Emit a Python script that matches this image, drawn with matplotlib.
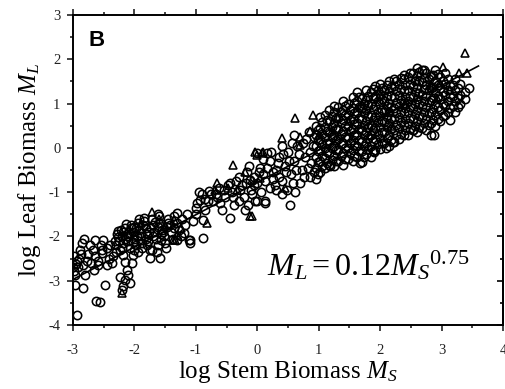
import numpy as np
import matplotlib.pyplot as plt
from matplotlib.ticker import MultipleLocator, FuncFormatter

plt.rcParams['font.family'] = ['Liberation Serif', 'DejaVu Serif']
plt.rcParams['mathtext.fontset'] = 'custom'
plt.rcParams['mathtext.rm'] = 'Liberation Serif'
plt.rcParams['mathtext.it'] = 'Liberation Serif:italic'

#--data (log stem biomass, log leaf biomass)--
circle_x = [
    # far left
    -2.98, -2.95, -3.00, -2.92, -2.86, -2.89, -2.83, -2.97, -2.80, -2.97, -2.84, -2.94, -2.90, -2.78, -2.75, -2.70, -2.93, -2.99,
    -2.64, -2.51, -2.64, -2.53, -2.59, -2.45, -2.37, -2.53, -2.45, -2.62, -2.56, -2.48, -2.40, -2.35, -2.55, -2.42, -2.30, -2.32, -2.68,
    -2.87, -2.72, -2.60, -2.82, -2.66,
    # cluster hanging below x=-2
    -2.23, -2.15, -2.10, -2.18, -2.21, -2.07, -2.18, -2.02, -2.15, -2.04, -2.21, -2.12,
    # dense block around x=-2 .. -1
    -2.28, -2.25, -2.22, -2.20, -2.18, -2.15, -2.12, -2.10, -2.08, -2.05, -2.02, -2.00, -1.98, -1.95, -1.92, -1.90,
    -1.88, -1.85, -1.82, -1.80, -1.78, -1.75, -1.72, -1.70, -1.68, -1.65, -1.62, -1.60, -1.58, -1.55, -1.52, -1.50,
    -1.88, -1.72, -1.75, -1.58, -1.45, -1.42, -1.40, -1.38, -1.35, -1.30, -1.28, -1.25, -1.22, -1.18, -1.15, -1.10,
    -1.05, -1.00, -2.00, -1.95, -2.30, -1.31, -0.88, -1.12, -1.47,
    -2.26, -2.16, -2.06, -1.96, -1.86, -1.76, -1.66, -1.56, -1.46, -1.36, -2.24, -2.00, -1.80, -1.64, -1.48, -1.92, -1.62,
    -2.27, -2.19, -2.11, -2.03, -1.97, -1.89, -1.81, -1.73, -1.69, -1.61, -1.53, -1.57, -1.84, -2.14,
    # middle of the band
    -0.93, -0.80, -0.58, -0.44, -0.20, -0.04, 0.13, -0.85, -1.09, -0.88, -1.31, -1.20, -0.14, -0.12, -0.06, -0.17,
    -0.01, 0.15, -0.01, 0.13, 0.48, 0.53, -0.95, -0.75, -0.65, -0.55, -0.40, -0.30, -0.25, -0.10, 0.00, 0.05,
    0.10, 0.20, 0.25, 0.30, 0.35, 0.40, 0.45, 0.50, 0.55, 0.60, 0.65, 0.70, 0.72, 0.78, 0.80, 0.85,
    0.88, 0.90, 0.30, 0.40, 0.62, 0.20, 0.10, -0.30, -0.45, -1.00, 0.60, 0.40,
    -0.98, -0.90, -0.85, -0.78, -0.72, -0.68, -0.62, -0.60, -0.52, -0.48, -0.42, -0.38, -0.35, -0.28, -0.22, -0.18,
    -0.15, -0.08, -0.05, 0.02, 0.06, 0.12, 0.16, 0.22, 0.26, 0.28, 0.33, 0.36, 0.42, 0.46, 0.52, 0.56,
    0.58, 0.63, 0.68, 0.74, 0.76, 0.82, 0.84, 0.86, 0.92, 0.92,
    # dense cloud x=1..3.5
    0.95, 0.95, 0.95, 0.95, 0.95, 0.95,
    1.02, 1.02, 1.02, 1.02, 1.02, 1.02,
    1.10, 1.10, 1.10, 1.10, 1.10, 1.10,
    1.17, 1.17, 1.17, 1.17, 1.17, 1.17,
    1.25, 1.25, 1.25, 1.25, 1.25, 1.25, 1.25,
    1.32, 1.32, 1.32, 1.32, 1.32, 1.32,
    1.40, 1.40, 1.40, 1.40, 1.40, 1.40, 1.40,
    1.47, 1.47, 1.47, 1.47, 1.47, 1.47,
    1.55, 1.55, 1.55, 1.55, 1.55, 1.55, 1.55,
    1.62, 1.62, 1.62, 1.62, 1.62, 1.62, 1.62,
    1.70, 1.70, 1.70, 1.70, 1.70, 1.70, 1.70,
    1.77, 1.77, 1.77, 1.77, 1.77, 1.77, 1.77,
    1.85, 1.85, 1.85, 1.85, 1.85, 1.85, 1.85,
    1.92, 1.92, 1.92, 1.92, 1.92, 1.92, 1.92,
    2.00, 2.00, 2.00, 2.00, 2.00, 2.00, 2.00,
    2.07, 2.07, 2.07, 2.07, 2.07, 2.07,
    2.15, 2.15, 2.15, 2.15, 2.15, 2.15, 2.15,
    2.22, 2.22, 2.22, 2.22, 2.22, 2.22, 2.22,
    2.30, 2.30, 2.30, 2.30, 2.30, 2.30,
    2.38, 2.38, 2.38, 2.38, 2.38, 2.38, 2.38,
    2.45, 2.45, 2.45, 2.45, 2.45, 2.45,
    2.53, 2.53, 2.53, 2.53, 2.53, 2.53,
    2.60, 2.60, 2.60, 2.60, 2.60, 2.60, 2.60,
    2.68, 2.68, 2.68, 2.68, 2.68, 2.68,
    2.75, 2.75, 2.75, 2.75, 2.75, 2.75,
    2.83, 2.83, 2.83, 2.83, 2.83, 2.83,
    2.90, 2.90, 2.90, 2.90, 2.90, 2.90,
    2.98, 2.98, 2.98, 2.98, 2.98,
    3.05, 3.05, 3.05, 3.05, 3.05,
    3.14, 3.14, 3.14, 3.14,
    3.22, 3.22, 3.22, 3.22,
    3.30, 3.30, 3.30,
    3.38, 3.38, 3.45,
    2.21, 2.87, 2.54, 1.67, 1.18, 2.72, 1.90, 2.10,
    # second, offset layer of the dense cloud
    0.98, 0.98, 0.98, 0.98, 0.98,
    1.06, 1.06, 1.06, 1.06, 1.06,
    1.13, 1.13, 1.13, 1.13, 1.13,
    1.21, 1.21, 1.21, 1.21, 1.21,
    1.28, 1.28, 1.28, 1.28, 1.28,
    1.36, 1.36, 1.36, 1.36, 1.36,
    1.43, 1.43, 1.43, 1.43, 1.43, 1.43,
    1.51, 1.51, 1.51, 1.51, 1.51,
    1.58, 1.58, 1.58, 1.58, 1.58, 1.58,
    1.66, 1.66, 1.66, 1.66, 1.66, 1.66,
    1.73, 1.73, 1.73, 1.73, 1.73, 1.73,
    1.81, 1.81, 1.81, 1.81, 1.81, 1.81,
    1.88, 1.88, 1.88, 1.88, 1.88, 1.88, 1.88,
    1.96, 1.96, 1.96, 1.96, 1.96, 1.96,
    2.03, 2.03, 2.03, 2.03, 2.03, 2.03,
    2.11, 2.11, 2.11, 2.11, 2.11, 2.11,
    2.18, 2.18, 2.18, 2.18, 2.18, 2.18,
    2.26, 2.26, 2.26, 2.26, 2.26, 2.26,
    2.34, 2.34, 2.34, 2.34, 2.34, 2.34,
    2.41, 2.41, 2.41, 2.41, 2.41,
    2.49, 2.49, 2.49, 2.49, 2.49, 2.49,
    2.57, 2.57, 2.57, 2.57, 2.57,
    2.64, 2.64, 2.64, 2.64, 2.64, 2.64,
    2.72, 2.72, 2.72, 2.72, 2.72,
    2.79, 2.79, 2.79, 2.79, 2.79,
    2.86, 2.86, 2.86, 2.86, 2.86,
    2.94, 2.94, 2.94, 2.94, 2.94,
    3.02, 3.02, 3.02, 3.02,
    3.10, 3.10, 3.10, 3.10,
    3.18, 3.18, 3.18,
    3.26, 3.26, 3.26,
]
circle_y = [
    -2.45, -2.62, -2.68, -2.70, -2.15, -2.30, -2.64, -2.87, -2.87, -3.09, -3.17, -3.77, -2.50, -2.55, -2.40, -2.60, -2.55, -2.78,
    -2.08, -2.08, -2.45, -2.38, -2.64, -2.64, -2.60, -2.30, -2.27, -3.45, -3.48, -3.09, -2.20, -2.45, -2.20, -2.50, -2.35, -2.10, -2.30,
    -2.40, -2.20, -2.55, -2.05, -2.75,
    -2.91, -2.98, -2.87, -3.13, -3.21, -3.06, -2.42, -2.42, -2.57, -2.60, -2.27, -2.75,
    -1.95, -2.10, -1.85, -2.00, -2.15, -1.80, -1.95, -2.10, -2.25, -1.75, -1.90, -2.05, -2.20, -1.70, -1.85, -2.00,
    -2.15, -1.65, -1.80, -1.95, -2.10, -2.30, -1.60, -1.75, -1.90, -2.05, -2.20, -1.55, -1.70, -1.85, -2.00, -2.15,
    -2.27, -2.30, -2.49, -2.49, -1.60, -1.75, -1.90, -2.05, -1.55, -1.70, -1.85, -2.00, -1.60, -1.75, -1.50, -2.15,
    -1.65, -1.50, -1.78, -2.35, -2.20, -1.48, -1.63, -2.08, -1.78,
    -1.88, -2.05, -1.82, -1.98, -1.75, -1.90, -1.68, -1.95, -1.70, -1.80, -2.30, -2.30, -2.20, -2.35, -2.25, -1.60, -1.50,
    -2.02, -1.90, -2.00, -2.12, -1.82, -1.92, -2.05, -1.82, -1.98, -1.78, -1.90, -2.08, -1.58, -1.72,
    -1.18, -1.21, -1.40, -1.59, -1.40, -1.21, -1.21, -1.40, -2.08, -2.04, -2.08, -1.93, -0.42, -0.73, -0.65, -0.54,
    -0.12, -0.12, -1.21, -1.25, -0.95, -1.29, -1.00, -1.05, -1.10, -0.95, -1.10, -1.20, -0.85, -0.95, -0.80, -0.45,
    -0.60, -0.30, -0.70, -0.50, -0.20, -0.75, -0.40, -0.10, -0.60, -0.30, 0.05, -0.80, -0.50, -0.20, 0.20, -0.65,
    -0.35, 0.05, -0.95, -1.05, -1.00, -0.90, -0.25, -0.65, -0.80, -1.35, 0.30, 0.05,
    -1.25, -1.05, -1.15, -0.98, -1.20, -1.05, -0.90, -1.25, -1.10, -0.85, -1.00, -1.30, -0.75, -0.95, -1.10, -0.80,
    -1.30, -1.05, -0.85, -0.55, -1.00, -0.75, -0.45, -0.10, -0.55, -0.85, -0.35, -0.65, -0.15, -0.55, -0.30, 0.10,
    -0.80, -0.50, -0.15, 0.10, -0.65, -0.45, 0.35, -0.10, -0.55, 0.25,
    -0.70, -0.45, -0.20, 0.05, 0.30, 0.50,
    -0.55, -0.30, -0.05, 0.20, 0.45, 0.70,
    -0.45, -0.22, 0.00, 0.25, 0.48, 0.75,
    -0.38, -0.12, 0.12, 0.35, 0.60, 0.85,
    -0.42, -0.18, 0.05, 0.30, 0.55, 0.80, 0.95,
    -0.30, -0.05, 0.20, 0.42, 0.68, 0.92,
    -0.38, -0.12, 0.12, 0.38, 0.62, 0.85, 1.05,
    -0.25, 0.00, 0.25, 0.50, 0.75, 0.98,
    -0.30, -0.05, 0.18, 0.42, 0.66, 0.90, 1.15,
    -0.20, 0.05, 0.30, 0.55, 0.80, 1.05, 1.25,
    -0.32, -0.08, 0.15, 0.40, 0.65, 0.90, 1.12,
    -0.15, 0.10, 0.35, 0.60, 0.85, 1.08, 1.30,
    -0.20, 0.05, 0.28, 0.52, 0.75, 1.00, 1.25,
    -0.05, 0.20, 0.45, 0.70, 0.95, 1.18, 1.40,
    -0.02, 0.22, 0.48, 0.72, 0.98, 1.22, 1.45,
    0.10, 0.35, 0.58, 0.82, 1.05, 1.30,
    0.05, 0.30, 0.55, 0.80, 1.02, 1.28, 1.50,
    0.14, 0.40, 0.65, 0.90, 1.15, 1.40, 1.55,
    0.20, 0.45, 0.70, 0.95, 1.20, 1.45,
    0.28, 0.52, 0.78, 1.02, 1.28, 1.55, 1.65,
    0.30, 0.55, 0.80, 1.05, 1.30, 1.60,
    0.40, 0.65, 0.90, 1.15, 1.40, 1.70,
    0.35, 0.60, 0.85, 1.10, 1.35, 1.62, 1.80,
    0.45, 0.70, 0.95, 1.20, 1.48, 1.76,
    0.40, 0.65, 0.92, 1.18, 1.42, 1.68,
    0.30, 0.55, 0.82, 1.08, 1.35, 1.62,
    0.50, 0.75, 1.00, 1.25, 1.50, 1.75,
    0.60, 0.85, 1.10, 1.35, 1.60,
    0.74, 0.95, 1.20, 1.45, 1.70,
    0.63, 0.90, 1.15, 1.40,
    0.82, 1.05, 1.30, 1.55,
    1.00, 1.20, 1.45,
    1.27, 1.10, 1.35,
    0.14, 0.29, 0.40, -0.35, -0.42, 1.76, -0.10, 0.00,
    -0.58, -0.33, -0.08, 0.18, 0.40,
    -0.42, -0.18, 0.08, 0.32, 0.58,
    -0.35, -0.10, 0.12, 0.37, 0.62,
    -0.28, 0.00, 0.24, 0.48, 0.72,
    -0.30, -0.05, 0.18, 0.43, 0.68,
    -0.18, 0.08, 0.32, 0.55, 0.80,
    -0.25, 0.00, 0.25, 0.50, 0.74, 0.95,
    -0.12, 0.12, 0.37, 0.62, 0.86,
    -0.18, 0.06, 0.30, 0.54, 0.78, 1.02,
    -0.08, 0.18, 0.42, 0.68, 0.92, 1.15,
    -0.20, 0.04, 0.28, 0.52, 0.78, 1.00,
    -0.02, 0.22, 0.46, 0.72, 0.96, 1.18,
    -0.08, 0.16, 0.40, 0.64, 0.88, 1.12, 1.32,
    0.08, 0.32, 0.58, 0.82, 1.06, 1.30,
    0.10, 0.35, 0.60, 0.85, 1.10, 1.35,
    0.22, 0.46, 0.70, 0.94, 1.18, 1.42,
    0.18, 0.42, 0.68, 0.92, 1.16, 1.38,
    0.28, 0.52, 0.78, 1.02, 1.28, 1.50,
    0.32, 0.58, 0.82, 1.08, 1.32, 1.58,
    0.40, 0.65, 0.90, 1.15, 1.42,
    0.42, 0.68, 0.92, 1.18, 1.45, 1.68,
    0.50, 0.76, 1.00, 1.26, 1.52,
    0.48, 0.72, 0.98, 1.24, 1.50, 1.72,
    0.56, 0.82, 1.06, 1.32, 1.58,
    0.52, 0.78, 1.04, 1.30, 1.55,
    0.62, 0.88, 1.12, 1.38, 1.64,
    0.66, 0.92, 1.18, 1.42, 1.66,
    0.72, 0.98, 1.25, 1.50,
    0.80, 1.05, 1.30, 1.55,
    0.95, 1.18, 1.42,
    0.92, 1.12, 1.35,
]
tri_x = [-0.39, 0.62, 0.91, 3.38, 3.41, 3.03, 2.98, -0.66, -0.47, -0.33, -0.69, -0.82, -0.12, -1.72,
         -2.21, -1.60, -1.50, -1.35, -1.25, -2.10, -2.00, -1.90, -1.31, 0.40, -0.04, 0.10, 0.45, -0.09,
         0.70, 0.86, -0.01, 0.07, 0.05, -0.09, -0.20, -1.34, 2.81, 2.92, 3.14, 3.28, 2.16, 1.21, 1.84,
         0.70, 1.50, 1.70, 2.40, 2.00, 1.30, 2.60, 2.20, 1.00, 1.90, -1.37]
tri_y = [-0.39, 0.67, 0.74, 2.14, 1.68, 1.83, 1.46, -0.80, -0.91, -0.95, -0.95, -1.70, -1.55, -1.44,
         -3.28, -1.60, -1.75, -1.62, -1.80, -1.85, -2.00, -1.70, -1.97, 0.22, -0.09, -0.09, -0.91, -1.55,
         0.25, 0.37, -0.16, -0.12, -0.69, -0.73, -0.54, -2.08, 1.42, 1.12, 1.31, 1.68, 0.82, 0.37, 0.29,
         0.07, 0.60, 0.90, 1.00, 1.20, 0.70, 1.50, 0.50, 0.30, 0.50, -2.08]

fit_intercept = -0.78
fit_slope = 0.73
fit_range = [-3.0, 3.6]

fig = plt.figure(figsize=(5.06, 3.89), dpi=100)
ax = fig.add_axes([0.1443, 0.1645, 0.8498, 0.797])

fx = np.array(fit_range)
ax.plot(fx, fit_intercept + fit_slope * fx, color='black', lw=1.2, zorder=1)
ax.plot(circle_x, circle_y, linestyle='none', marker='o', ms=6.0, mfc='none', mec='black', mew=1.15, zorder=2)
ax.plot(tri_x, tri_y, linestyle='none', marker='^', ms=6.0, mfc='none', mec='black', mew=1.15, zorder=3)

ax.set_xlim(-3, 4)
ax.set_ylim(-4, 3)
ax.xaxis.set_major_locator(MultipleLocator(1))
ax.xaxis.set_minor_locator(MultipleLocator(0.5))
ax.yaxis.set_major_locator(MultipleLocator(1))
ax.yaxis.set_minor_locator(MultipleLocator(0.5))
fmt = FuncFormatter(lambda v, p: '%d' % round(v) if v >= 0 else '-%d' % round(-v))
ax.xaxis.set_major_formatter(fmt)
ax.yaxis.set_major_formatter(fmt)

for s in ax.spines.values():
    s.set_linewidth(1.4)
ax.tick_params(which='both', top=True, right=False, direction='out', width=1.2, labelsize=10.5, colors='#222222')
ax.tick_params(axis='x', which='major', pad=10)
ax.tick_params(axis='y', which='major', pad=5)
ax.tick_params(which='major', length=4)
ax.tick_params(which='minor', length=2.5)

# right-hand ticks point inwards in the original
sec = ax.secondary_yaxis('right')
sec.yaxis.set_major_locator(MultipleLocator(1))
sec.yaxis.set_minor_locator(MultipleLocator(0.5))
sec.tick_params(which='both', direction='in', width=1.2, labelright=False)
sec.tick_params(which='major', length=4)
sec.tick_params(which='minor', length=2.5)
sec.spines['right'].set_linewidth(1.4)

ax.set_xlabel(r'log Stem Biomass $M_S$', fontsize=18, labelpad=1)
ax.set_ylabel(r'log Leaf Biomass $M_L$', fontsize=18, labelpad=4)

ax.text(0.035, 0.95, 'B', transform=ax.transAxes, fontsize=16, fontweight='bold',
        family='Liberation Sans', va='top', ha='left')
ax.text(0.45, 0.16, r'$M_L = 0.12M_S{}^{0.75}$', transform=ax.transAxes, fontsize=23,
        va='baseline', ha='left')

fig.savefig('out.png', dpi=100)
